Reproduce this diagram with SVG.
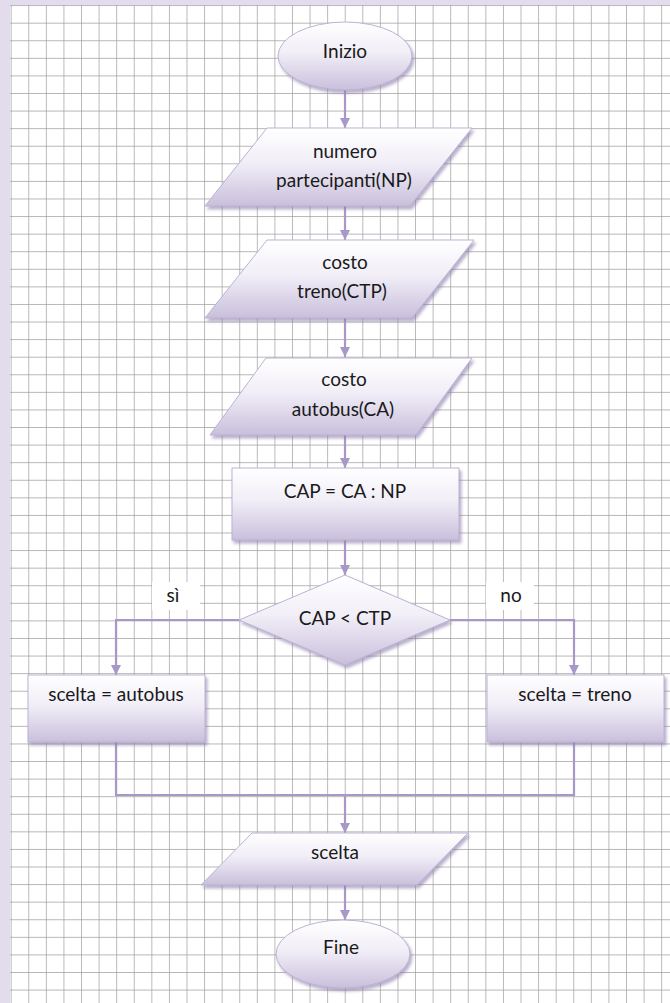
<svg xmlns="http://www.w3.org/2000/svg" width="670" height="1003" viewBox="0 0 670 1003">
<style>
.shape{fill:url(#fillg);stroke:#bdb2d3;stroke-width:1;filter:url(#sh)}
.conn{fill:none;stroke:#a898c8;stroke-width:2.2}
.t{font-family:Lato,"Liberation Sans",sans-serif;font-size:19px;fill:#1a1a1a;text-anchor:middle}
.lbl{fill:#ffffff}
</style>
<defs>
<pattern id="grid" x="10.7" y="5.1" width="17.58" height="17.58" patternUnits="userSpaceOnUse">
<path d="M0 0H17.58M0 0V17.58" stroke="#9e9e9e" stroke-width="1.4" fill="none"/>
</pattern>
<linearGradient id="fillg" x1="0" y1="0" x2="0" y2="1">
<stop offset="0" stop-color="#ffffff"/>
<stop offset="0.45" stop-color="#f1eef7"/>
<stop offset="1" stop-color="#c9bfdc"/>
</linearGradient>
<filter id="sh" x="-10%" y="-10%" width="125%" height="130%">
<feDropShadow dx="2" dy="3" stdDeviation="1.5" flood-color="#8b7daa" flood-opacity="0.6"/>
</filter>
<marker id="arr" markerWidth="11" markerHeight="11" refX="10" refY="5" orient="auto" markerUnits="userSpaceOnUse">
<path d="M0,0 L10,5 L0,10 z" fill="#a898c8"/>
</marker>
</defs>
<rect x="0" y="0" width="670" height="1003" fill="#e2dcec"/>
<rect x="10" y="5" width="660" height="998" fill="#ffffff"/>
<rect x="10" y="5" width="660" height="998" fill="url(#grid)"/>

<g id="connectors">
<line class="conn" x1="345" y1="90" x2="345" y2="128" marker-end="url(#arr)"/>
<line class="conn" x1="345" y1="206" x2="345" y2="240" marker-end="url(#arr)"/>
<line class="conn" x1="345" y1="318" x2="345" y2="357" marker-end="url(#arr)"/>
<line class="conn" x1="345" y1="435" x2="345" y2="468" marker-end="url(#arr)"/>
<line class="conn" x1="345" y1="540" x2="345" y2="575" marker-end="url(#arr)"/>
<polyline class="conn" points="239,620 116,620 116,675" marker-end="url(#arr)"/>
<polyline class="conn" points="450,620 574,620 574,675" marker-end="url(#arr)"/>
<polyline class="conn" points="116,742 116,795 574,795 574,742"/>
<line class="conn" x1="345" y1="795" x2="345" y2="833" marker-end="url(#arr)"/>
<line class="conn" x1="345" y1="885" x2="345" y2="920" marker-end="url(#arr)"/>
</g>

<g id="label-si">
<rect class="lbl" x="152" y="582" width="48" height="28"/>
<text class="t" x="173" y="602">sì</text>
</g>
<g id="label-no">
<rect class="lbl" x="486" y="582" width="48" height="28"/>
<text class="t" x="511" y="602">no</text>
</g>

<g id="inizio">
<ellipse class="shape" cx="345" cy="56" rx="67" ry="34"/>
<text class="t" x="345" y="58">Inizio</text>
</g>
<g id="input-np">
<polygon class="shape" points="267,128 472,128 410,206 205,206"/>
<text class="t" x="345" y="158">numero</text>
<text class="t" x="344" y="187">partecipanti(NP)</text>
</g>
<g id="input-ctp">
<polygon class="shape" points="267,240 474,240 412,318 205,318"/>
<text class="t" x="345" y="269">costo</text>
<text class="t" x="342" y="298">treno(CTP)</text>
</g>
<g id="input-ca">
<polygon class="shape" points="266,358 472,358 416,435 210,435"/>
<text class="t" x="344" y="386">costo</text>
<text class="t" x="343" y="416">autobus(CA)</text>
</g>
<g id="calc-cap">
<rect class="shape" x="232" y="468" width="227" height="72"/>
<text class="t" x="345" y="498">CAP = CA : NP</text>
</g>
<g id="decision">
<polygon class="shape" points="345,575 450,620 345,665 239,620"/>
<text class="t" x="345" y="625">CAP &lt; CTP</text>
</g>
<g id="scelta-autobus">
<rect class="shape" x="28" y="675" width="177" height="67"/>
<text class="t" x="116" y="701">scelta = autobus</text>
</g>
<g id="scelta-treno">
<rect class="shape" x="487" y="675" width="177" height="67"/>
<text class="t" x="575" y="701">scelta = treno</text>
</g>
<g id="output-scelta">
<polygon class="shape" points="252,833 468,833 417,885 201,885"/>
<text class="t" x="335" y="859">scelta</text>
</g>
<g id="fine">
<ellipse class="shape" cx="343" cy="954" rx="67" ry="34"/>
<text class="t" x="341" y="954">Fine</text>
</g>
</svg>
